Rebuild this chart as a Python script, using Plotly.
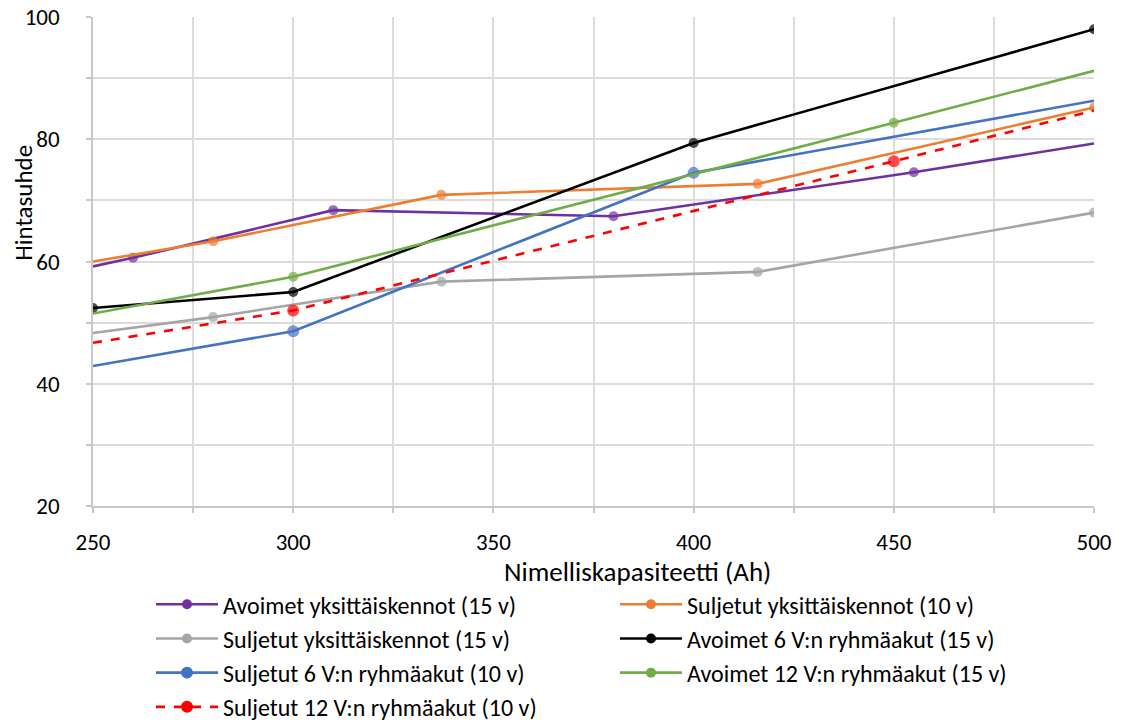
import plotly.graph_objects as go

# Nimelliskapasiteetti (Ah) vs. hintasuhde
names = [
    "Avoimet yksittäiskennot (15 v)",
    "Suljetut yksittäiskennot (10 v)",
    "Suljetut yksittäiskennot (15 v)",
    "Avoimet 6 V:n ryhmäakut (15 v)",
    "Suljetut 6 V:n ryhmäakut (10 v)",
    "Avoimet 12 V:n ryhmäakut (15 v)",
    "Suljetut 12 V:n ryhmäakut (10 v)",
]

x_av_yks15 = [250, 260, 310, 380, 455, 500]
y_av_yks15 = [59.2, 60.6, 68.4, 67.4, 74.6, 79.3]

x_su_yks10 = [250, 280, 337, 416, 500]
y_su_yks10 = [60.0, 63.3, 70.9, 72.7, 85.2]

x_su_yks15 = [250, 280, 337, 416, 500]
y_su_yks15 = [48.3, 50.9, 56.7, 58.3, 68.0]

x_av_6v = [250, 300, 400, 500]
y_av_6v = [52.4, 55.0, 79.4, 98.0]

x_su_6v = [250, 300, 400, 500]
y_su_6v = [42.9, 48.6, 74.5, 86.3]

x_av_12v = [250, 300, 450, 500]
y_av_12v = [51.5, 57.5, 82.7, 91.2]

x_su_12v = [250, 300, 450, 500]
y_su_12v = [46.7, 52.0, 76.4, 84.7]

series_x = [x_av_yks15, x_su_yks10, x_su_yks15, x_av_6v, x_su_6v, x_av_12v, x_su_12v]
series_y = [y_av_yks15, y_su_yks10, y_su_yks15, y_av_6v, y_su_6v, y_av_12v, y_su_12v]

# which points of each series carry a marker (end points are often bare)
marked = [
    [False, True, True, True, True, False],
    [False, True, True, True, True],
    [False, True, True, True, True],
    [True, True, True, True],
    [False, True, True, False],
    [False, True, True, False],
    [False, True, True, False],
]

colors = ["#7030A0", "#ED7D31", "#A5A5A5", "#000000", "#4472C4", "#70AD47", "#FF0000"]
msizes = [10, 10, 10, 10, 12, 10, 12]
dashes = ["solid"] * 6 + ["dash"]

FONT = "Carlito, Calibri, Lato, sans-serif"
GRID = "#DCDCDC"
AXIS = "#C8C8C8"

fig = go.Figure()

for i, name in enumerate(names):
    sizes = [msizes[i] if m else 0 for m in marked[i]]
    fig.add_trace(go.Scatter(
        x=series_x[i], y=series_y[i],
        mode="lines+markers",
        name=name,
        line=dict(color=colors[i], width=2.6, dash=dashes[i]),
        marker=dict(color=colors[i], size=sizes, line=dict(width=0)),
        showlegend=False,
        legendgroup=name,
    ))
    # legend entry only
    fig.add_trace(go.Scatter(
        x=[None], y=[None],
        mode="lines+markers",
        name=name,
        line=dict(color=colors[i], width=2.6, dash=dashes[i]),
        marker=dict(color=colors[i], size=msizes[i]),
        legendgroup=name,
    ))

axis_common = dict(
    showline=True, linecolor=AXIS, linewidth=1.5,
    showgrid=True, gridcolor=GRID, gridwidth=1.5,
    ticks="outside", ticklen=5, tickcolor=AXIS, tickwidth=1.5,
    zeroline=False, automargin=False, ticklabeloverflow="allow",
    tickfont=dict(family=FONT, size=23, color="#000000"),
)

fig.update_xaxes(
    range=[250, 500], dtick=50, tick0=250,
    minor=dict(dtick=25, showgrid=True, gridcolor=GRID, gridwidth=1.5,
               ticks="outside", ticklen=5, tickcolor=AXIS),
    ticklabelstandoff=10,
    **axis_common,
)
fig.update_yaxes(
    range=[20, 100], dtick=20, tick0=20,
    minor=dict(dtick=10, showgrid=True, gridcolor=GRID, gridwidth=1.5,
               ticks="outside", ticklen=5, tickcolor=AXIS),
    ticklabelstandoff=22,
    **axis_common,
)

# axis titles as annotations (they sit off-centre in the original)
fig.add_annotation(
    text="Nimelliskapasiteetti (Ah)", xref="paper", yref="paper",
    x=0.5435, y=-0.134, xanchor="center", yanchor="middle",
    showarrow=False, font=dict(family=FONT, size=27, color="#000000"),
)
fig.add_annotation(
    text="Hintasuhde", xref="paper", yref="paper",
    x=-0.069, y=0.62, xanchor="center", yanchor="middle", textangle=-90,
    showarrow=False, font=dict(family=FONT, size=25, color="#000000"),
)

# page body adds an 8px offset, so the margins are trimmed by that much
fig.update_layout(
    width=1126, height=724,
    margin=dict(l=85, r=40, t=9, b=226),
    paper_bgcolor="white", plot_bgcolor="white",
    font=dict(family=FONT, size=22, color="#000000"),
    legend=dict(
        orientation="h",
        xref="container", yref="container",
        x=0.127, xanchor="left",
        y=0.207, yanchor="top",
        entrywidth=387, entrywidthmode="pixels",
        itemwidth=62,
        font=dict(family=FONT, size=24, color="#000000"),
        tracegroupgap=0,
    ),
)

fig.write_html("out.html")
